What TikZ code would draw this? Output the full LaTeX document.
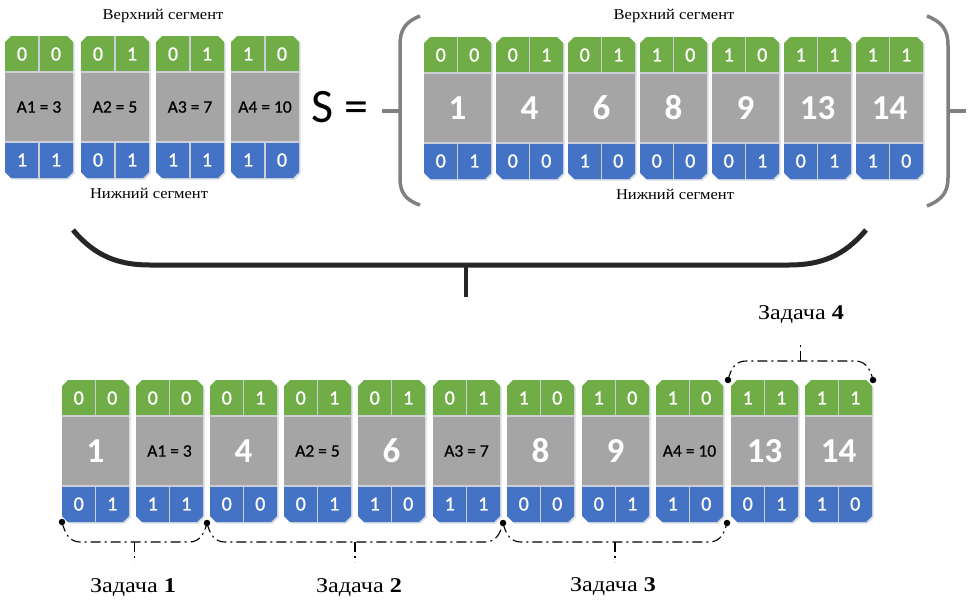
\documentclass[tikz,border=0pt]{standalone}
\usepackage{fontspec}
\setmainfont{Liberation Serif}
\newfontfamily\labfont[FakeStretch=1.15]{Liberation Serif}
\newfontfamily\segfont[FakeStretch=1.1]{Liberation Serif}
\newfontfamily\calfont{Carlito}
\newfontfamily\bitfont[FakeBold=1.2]{Carlito}
\newfontfamily\afont[FakeBold=0.8]{Carlito}
\definecolor{cgreen}{HTML}{70AD47}
\definecolor{cgray}{HTML}{A5A5A5}
\definecolor{cblue}{HTML}{4472C4}
\definecolor{cdiv}{HTML}{CBD0D6}
\definecolor{cbrk}{HTML}{808080}
\definecolor{cbrace}{HTML}{262626}
\definecolor{cshadow}{HTML}{D8DCE2}
\tikzset{
  bit/.style={text=white, font=\bitfont\fontsize{20}{20}\selectfont, inner sep=0pt},
  bignum/.style={text=white, font=\calfont\bfseries\fontsize{35}{35}\selectfont, inner sep=0pt},
  alab/.style={text=black, font=\afont\fontsize{17.5}{17.5}\selectfont, inner sep=0pt},
  seglab/.style={font=\segfont\fontsize{15}{15}\selectfont, inner sep=0pt},
  tasklab/.style={font=\labfont\fontsize{21}{21}\selectfont, inner sep=0pt},
  taskline/.style={line width=1.1pt, dash pattern=on 10pt off 4pt on 2pt off 4pt},
  dotc/.style={circle, fill=black, inner sep=0pt, minimum size=6.5pt},
  divline/.style={cdiv, line width=1.6pt},
  brk/.style={cbrk, line width=3.5pt},
  bigbrace/.style={cbrace, line width=5pt},
}
% #1 name, #2 x, #3 y, #4 tl, #5 tr, #6 mid style, #7 mid text, #8 bl, #9 br ; width in \cw
\newcommand\mkcard[9]{%
  \begin{scope}[shift={(#2,#3)}]
    \fill[cshadow] (7.5,1.5) -- (\cw-4.5,1.5) -- (\cw+1.5,7.5) -- (\cw+1.5,137.5) -- (\cw-4.5,143.5) -- (7.5,143.5) -- (1.5,137.5) -- (1.5,7.5) -- cycle;
    \fill[cgreen] (6,0) -- (\cw-6,0) -- (\cw,6) -- (\cw,36) -- (0,36) -- (0,6) -- cycle;
    \fill[cgray] (0,36) rectangle (\cw,106);
    \fill[cblue] (0,106) -- (\cw,106) -- (\cw,136) -- (\cw-6,142) -- (6,142) -- (0,136) -- cycle;
    \draw[divline] (0,36) -- (\cw,36);
    \draw[divline] (0,106) -- (\cw,106);
    \draw[divline] (\cw/2,0) -- (\cw/2,36);
    \draw[divline] (\cw/2,106) -- (\cw/2,142);
    \node[bit] (#1g1) at (\cw/4,18) {#4};
    \node[bit] (#1g2) at (3*\cw/4,18) {#5};
    \node[#6] (#1m) at (\cw/2,71) {#7};
    \node[bit] (#1b1) at (\cw/4,124) {#8};
    \node[bit] (#1b2) at (3*\cw/4,124) {#9};
  \end{scope}}
\begin{document}
\begin{tikzpicture}[x=1pt,y=-1pt]
\useasboundingbox[fill=white] (0,0) rectangle (976,613);

% ---- top-left cards
\def\cw{68}
\mkcard{a1}{5}{36}{0}{0}{alab}{A1 = 3}{1}{1}
\mkcard{a2}{81}{36}{0}{1}{alab}{A2 = 5}{0}{1}
\mkcard{a3}{156}{36}{0}{1}{alab}{A3 = 7}{1}{1}
\mkcard{a4}{231}{36}{1}{0}{alab}{A4 = 10}{1}{0}
\node[seglab] (topL) at (163,16) {Верхний сегмент};
\node[seglab] (botL) at (149,193) {Нижний сегмент};

% ---- S =
\node[font=\calfont\fontsize{48}{48}\selectfont, inner sep=0pt, anchor=base west] (seq) at (311,122) {S =};

% ---- parentheses
\draw[brk] (420,16) .. controls (405,22) and (400,30) .. (400,45) -- (400,178) .. controls (400,192) and (405,200) .. (420,205);
\draw[brk] (382,111) -- (400,111);
\draw[brk] (927,16) .. controls (942,22) and (948,30) .. (948,45) -- (948,178) .. controls (948,192) and (942,200) .. (927,206);
\draw[brk] (948,111) -- (966,111);

% ---- top-right cards
\def\cw{67}
\mkcard{s1}{424}{37}{0}{0}{bignum}{1}{0}{1}
\mkcard{s2}{496}{37}{0}{1}{bignum}{4}{0}{0}
\mkcard{s3}{568}{37}{0}{1}{bignum}{6}{1}{0}
\mkcard{s4}{640}{37}{1}{0}{bignum}{8}{0}{0}
\mkcard{s5}{712}{37}{1}{0}{bignum}{9}{0}{1}
\mkcard{s6}{784}{37}{1}{1}{bignum}{13}{0}{1}
\mkcard{s7}{856}{37}{1}{1}{bignum}{14}{1}{0}
\node[seglab] (topR) at (674,16) {Верхний сегмент};
\node[seglab] (botR) at (675,194) {Нижний сегмент};

% ---- big brace
\draw[bigbrace] (73,230) .. controls (95,256) and (118,265) .. (150,265) -- (789,265) .. controls (821,265) and (844,256) .. (866,230);
\draw[cbrace, line width=4.5pt] (466,265) -- (466,297);

% ---- bottom row
\mkcard{b1}{62}{380}{0}{0}{bignum}{1}{0}{1}
\mkcard{b2}{136}{380}{0}{0}{alab}{A1 = 3}{1}{1}
\mkcard{b3}{210}{380}{0}{1}{bignum}{4}{0}{0}
\mkcard{b4}{284}{380}{0}{1}{alab}{A2 = 5}{0}{1}
\mkcard{b5}{358}{380}{0}{1}{bignum}{6}{1}{0}
\mkcard{b6}{433}{380}{0}{1}{alab}{A3 = 7}{1}{1}
\mkcard{b7}{507}{380}{1}{0}{bignum}{8}{0}{0}
\mkcard{b8}{582}{380}{1}{0}{bignum}{9}{0}{1}
\mkcard{b9}{656}{380}{1}{0}{alab}{A4 = 10}{1}{0}
\mkcard{b10}{731}{380}{1}{1}{bignum}{13}{0}{1}
\mkcard{b11}{805}{380}{1}{1}{bignum}{14}{1}{0}

% ---- task dots
\node[dotc] (d1) at (62,522) {};
\node[dotc] (d2) at (207,523) {};
\node[dotc] (d3) at (503,523) {};
\node[dotc] (d4) at (727,523) {};
\node[dotc] (d5) at (728,380) {};
\node[dotc] (d6) at (873,380) {};

% ---- task braces
\draw[taskline] (d1.center) .. controls +(3,12) and +(-10,0) .. (80,542) -- (189,542) .. controls +(10,0) and +(-3,12) .. (d2.center);
\draw[taskline] (134.5,542) -- (134.5,562);
\draw[taskline] (d2.center) .. controls +(3,12) and +(-10,0) .. (225,542) -- (485,542) .. controls +(10,0) and +(-3,12) .. (d3.center);
\draw[taskline] (355,542) -- (355,562);
\draw[taskline] (d3.center) .. controls +(3,12) and +(-10,0) .. (521,542) -- (709,542) .. controls +(10,0) and +(-3,12) .. (d4.center);
\draw[taskline] (615,542) -- (615,562);
\draw[taskline] (d5.center) .. controls +(3,-12) and +(-10,0) .. (746,361) -- (855,361) .. controls +(10,0) and +(-3,-12) .. (d6.center);
\draw[taskline] (800.5,361) -- (800.5,343);

% ---- task labels
\node[tasklab] (t1) at (133,588) {Задача \textbf{1}};
\node[tasklab] (t2) at (359,588) {Задача \textbf{2}};
\node[tasklab] (t3) at (613,587) {Задача \textbf{3}};
\node[tasklab] (t4) at (801,315) {Задача \textbf{4}};
\end{tikzpicture}
\end{document}
